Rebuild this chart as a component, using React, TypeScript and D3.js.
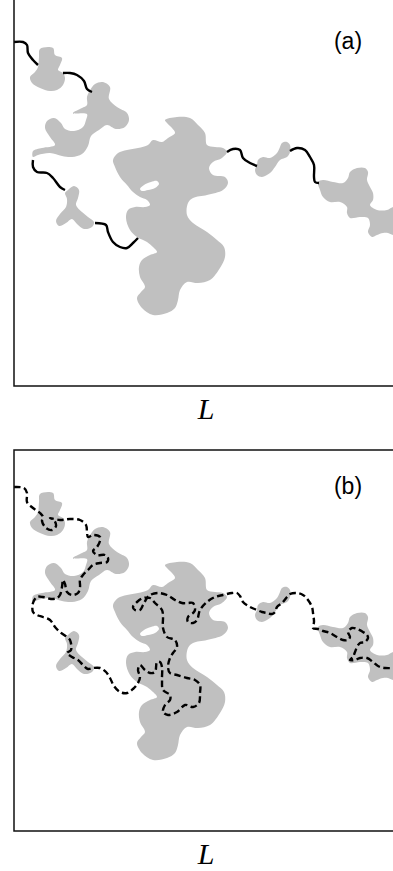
import React from "react";
import * as d3 from "d3";

type Pt = [number, number];

// Lattice window (same for both panels), in lattice units
const X_DOMAIN: [number, number] = [14, 394];
const Y_DOMAIN: [number, number] = [5, 386];

// Gray clusters (outline vertices)
const clusterTopLeft: Pt[] = [
  [40, 49], [53, 48], [55, 55], [62, 58], [60, 65], [58, 70], [63, 73], [65, 78],
  [63, 85], [57, 90], [50, 91], [40, 88], [32, 83], [30, 77], [35, 72], [38, 67], [39, 57],
];

const clusterUpper: Pt[] = [
  [89, 92], [95, 84], [103, 82], [110, 87], [109, 99], [117, 107], [127, 113], [129, 120],
  [125, 127], [116, 129], [107, 125], [99, 130], [91, 136], [88, 146], [82, 154], [72, 157],
  [62, 156], [50, 153], [38, 155], [33, 157], [33, 151], [42, 148], [55, 145], [50, 137],
  [45, 128], [47, 121], [54, 118], [61, 123], [65, 129], [74, 131], [83, 127], [86, 120],
  [87, 114], [73, 113], [82, 108], [87, 105], [87, 97],
];

const clusterCross: Pt[] = [
  [68, 190], [74, 186], [79, 190], [78, 198], [76, 205], [82, 212], [88, 217], [94, 222],
  [92, 227], [84, 229], [77, 224], [72, 219], [66, 223], [59, 226], [56, 221], [60, 214],
  [66, 207], [67, 199], [65, 193],
];

const clusterLarge: Pt[] = [
  [165, 120], [177, 117], [190, 118], [198, 125], [205, 133], [207, 145], [215, 147],
  [223, 148], [227, 152], [222, 158], [213, 162], [209, 168], [213, 175], [225, 177],
  [228, 183], [223, 190], [207, 195], [193, 198], [188, 203], [187, 215], [193, 223],
  [207, 232], [217, 240], [224, 247], [225, 257], [220, 268], [210, 280], [198, 283],
  [187, 282], [180, 290], [178, 300], [175, 308], [167, 313], [153, 315], [142, 308],
  [137, 298], [141, 292], [145, 287], [140, 277], [139, 267], [142, 260], [150, 255],
  [157, 252], [153, 247], [147, 242], [137, 237], [130, 230], [126, 218], [128, 210],
  [135, 207], [145, 207], [150, 205], [147, 200], [140, 197], [133, 192], [127, 185],
  [120, 177], [115, 167], [113, 160], [118, 153], [127, 150], [138, 148], [148, 145],
  [153, 140], [162, 142], [168, 138], [175, 133], [172, 128], [167, 123],
];

const holeLarge: Pt[] = [
  [140, 189], [144, 185], [151, 182], [157, 181], [159, 184], [155, 188], [148, 190], [142, 191],
];

const clusterSmallRight: Pt[] = [
  [257, 165], [258, 160], [263, 157], [270, 158], [277, 153], [280, 147], [282, 143],
  [287, 142], [290, 145], [290, 152], [287, 157], [280, 160], [275, 167], [270, 173],
  [262, 177], [257, 175], [255, 170],
];

const clusterEdge: Pt[] = [
  [318, 182], [323, 180], [333, 182], [343, 183], [348, 178], [350, 172], [357, 168],
  [365, 168], [368, 172], [367, 180], [370, 187], [373, 193], [373, 200], [370, 205],
  [377, 210], [387, 210], [393, 207], [402, 205], [402, 235], [393, 235], [388, 233],
  [383, 233], [377, 235], [372, 237], [368, 232], [370, 225], [368, 218], [360, 217],
  [350, 218], [347, 213], [347, 207], [340, 202], [330, 202], [323, 197], [320, 190],
];

const clusters: Pt[][] = [
  clusterTopLeft, clusterUpper, clusterCross, clusterLarge, clusterSmallRight, clusterEdge,
];
const holes: Pt[][] = [holeLarge];

// Pieces of the path lying outside the clusters (panel a)
const outerSegments: Pt[][] = [
  [[14, 42], [23, 42], [27, 45], [28, 53], [33, 60], [38, 65]],
  [[63, 73], [70, 73], [77, 75], [84, 81], [87, 89], [92, 92]],
  [[33, 160], [33, 167], [37, 172], [47, 173], [53, 178], [60, 187], [65, 190]],
  [[95, 223], [106, 225], [108, 232], [113, 242], [120, 247], [127, 248], [133, 243], [138, 238]],
  [[227, 152], [233, 149], [240, 150], [243, 158], [250, 163], [257, 166]],
  [[290, 151], [297, 148], [305, 150], [310, 157], [314, 165], [314, 177], [315, 182], [319, 183]],
];

// Full path through the lattice (panel b)
const fullPath: Pt[] = [
  [14, 42], [24, 43], [27, 48], [27, 57], [33, 63], [40, 68], [43, 72],
  [42, 76], [46, 83], [52, 85], [56, 81], [54, 75], [50, 73],
  [60, 75], [70, 74], [80, 75], [86, 80], [87, 87], [88, 92],
  [93, 90], [100, 92], [100, 96], [97, 102], [93, 106], [97, 110], [105, 110], [108, 113],
  [107, 117], [100, 118], [93, 120], [88, 125], [83, 130], [80, 135], [80, 142], [78, 148],
  [72, 150], [67, 147], [65, 139], [63, 135], [62, 142], [60, 150], [57, 153], [51, 154],
  [43, 152], [37, 152], [33, 158], [33, 167], [37, 170], [43, 172], [50, 175], [55, 182],
  [60, 187], [67, 192], [70, 195], [71, 205], [67, 208], [72, 212], [78, 215], [83, 220],
  [88, 224], [93, 223], [100, 223], [106, 227], [110, 233], [114, 241], [120, 247],
  [127, 248], [133, 244], [138, 238], [140, 232], [138, 225], [140, 220], [145, 225],
  [150, 228], [155, 227], [157, 217], [160, 217], [162, 222], [162, 235], [163, 245],
  [170, 250], [170, 255], [165, 260], [163, 267], [168, 270], [177, 267], [185, 260],
  [193, 262], [199, 258], [200, 248], [200, 240], [195, 235], [187, 233], [177, 230],
  [170, 228], [168, 222], [170, 213], [173, 208], [177, 202], [175, 195], [167, 192],
  [163, 183], [163, 172], [162, 165], [155, 158], [150, 153], [143, 153], [137, 157],
  [133, 162], [135, 165], [140, 165], [143, 160], [147, 153], [150, 150], [158, 148],
  [167, 150], [175, 155], [182, 158], [188, 158], [193, 158], [195, 165], [193, 168],
  [188, 172], [188, 177], [193, 178], [197, 175], [200, 165], [207, 157], [215, 152],
  [223, 150], [232, 148], [237, 148], [240, 151], [243, 157], [250, 162], [257, 165],
  [262, 167], [267, 168], [272, 169], [275, 167], [277, 162], [282, 158], [287, 152],
  [290, 149], [297, 148], [303, 150], [308, 155], [312, 162], [313, 168], [314, 177],
  [313, 183], [318, 184], [323, 186], [330, 188], [337, 192], [343, 195], [348, 195],
  [350, 192], [348, 187], [352, 183], [357, 184], [363, 187], [367, 190], [368, 193],
  [365, 197], [360, 198], [357, 202], [355, 207], [353, 212], [350, 215], [355, 215],
  [360, 213], [367, 213], [373, 217], [378, 221], [385, 223], [394, 223],
];

const panels = [
  { id: "a", label: "(a)", top: 5, bottom: 386, drawTop: false, dashed: false },
  { id: "b", label: "(b)", top: 450, bottom: 831, drawTop: true, dashed: true },
];

const AXIS_LABEL = "L";

export default function App() {
  const width = 393;
  const height = 871;
  const left = 14;
  const right = 394;

  return (
    <svg
      width={width}
      height={height}
      style={{ position: "absolute", left: 0, top: 0, background: "#fff" }}
    >
      {panels.map((p) => {
        const x = d3.scaleLinear().domain(X_DOMAIN).range([left, right]);
        const y = d3.scaleLinear().domain(Y_DOMAIN).range([p.top, p.bottom]);
        const closed = d3
          .line<Pt>()
          .x((d) => x(d[0]))
          .y((d) => y(d[1]))
          .curve(d3.curveCatmullRomClosed.alpha(0.5));
        const open = d3
          .line<Pt>()
          .x((d) => x(d[0]))
          .y((d) => y(d[1]))
          .curve(d3.curveCatmullRom.alpha(0.5));
        const clipId = `clip-${p.id}`;
        const frame = p.drawTop
          ? `M${right + 5},${p.top}H${left}V${p.bottom}H${right + 5}`
          : `M${left},${p.top - 10}V${p.bottom}H${right + 5}`;
        return (
          <g key={p.id}>
            <defs>
              <clipPath id={clipId}>
                <rect x={left} y={p.top} width={right - left} height={p.bottom - p.top} />
              </clipPath>
            </defs>
            <g clipPath={`url(#${clipId})`}>
              {clusters.map((c, i) => (
                <path key={`c${i}`} d={closed(c) ?? ""} fill="#c0c0c0" stroke="none" />
              ))}
              {holes.map((h, i) => (
                <path key={`h${i}`} d={closed(h) ?? ""} fill="#fff" stroke="none" />
              ))}
              {p.dashed ? (
                <path
                  d={open(fullPath) ?? ""}
                  fill="none"
                  stroke="#000"
                  strokeWidth={2.4}
                  strokeDasharray="6.5 3.5"
                />
              ) : (
                outerSegments.map((s, i) => (
                  <path
                    key={`s${i}`}
                    d={open(s) ?? ""}
                    fill="none"
                    stroke="#000"
                    strokeWidth={2.4}
                    strokeLinecap="butt"
                  />
                ))
              )}
            </g>
            <path d={frame} fill="none" stroke="#111" strokeWidth={1.5} />
            <text
              x={348}
              y={p.top + 44}
              textAnchor="middle"
              fontFamily="'Liberation Sans', Arial, sans-serif"
              fontSize={23}
              fill="#000"
            >
              {p.label}
            </text>
            <text
              x={206}
              y={p.bottom + 33}
              textAnchor="middle"
              fontFamily="'Liberation Serif', 'Times New Roman', serif"
              fontStyle="italic"
              fontSize={30}
              fill="#000"
            >
              {AXIS_LABEL}
            </text>
          </g>
        );
      })}
    </svg>
  );
}
